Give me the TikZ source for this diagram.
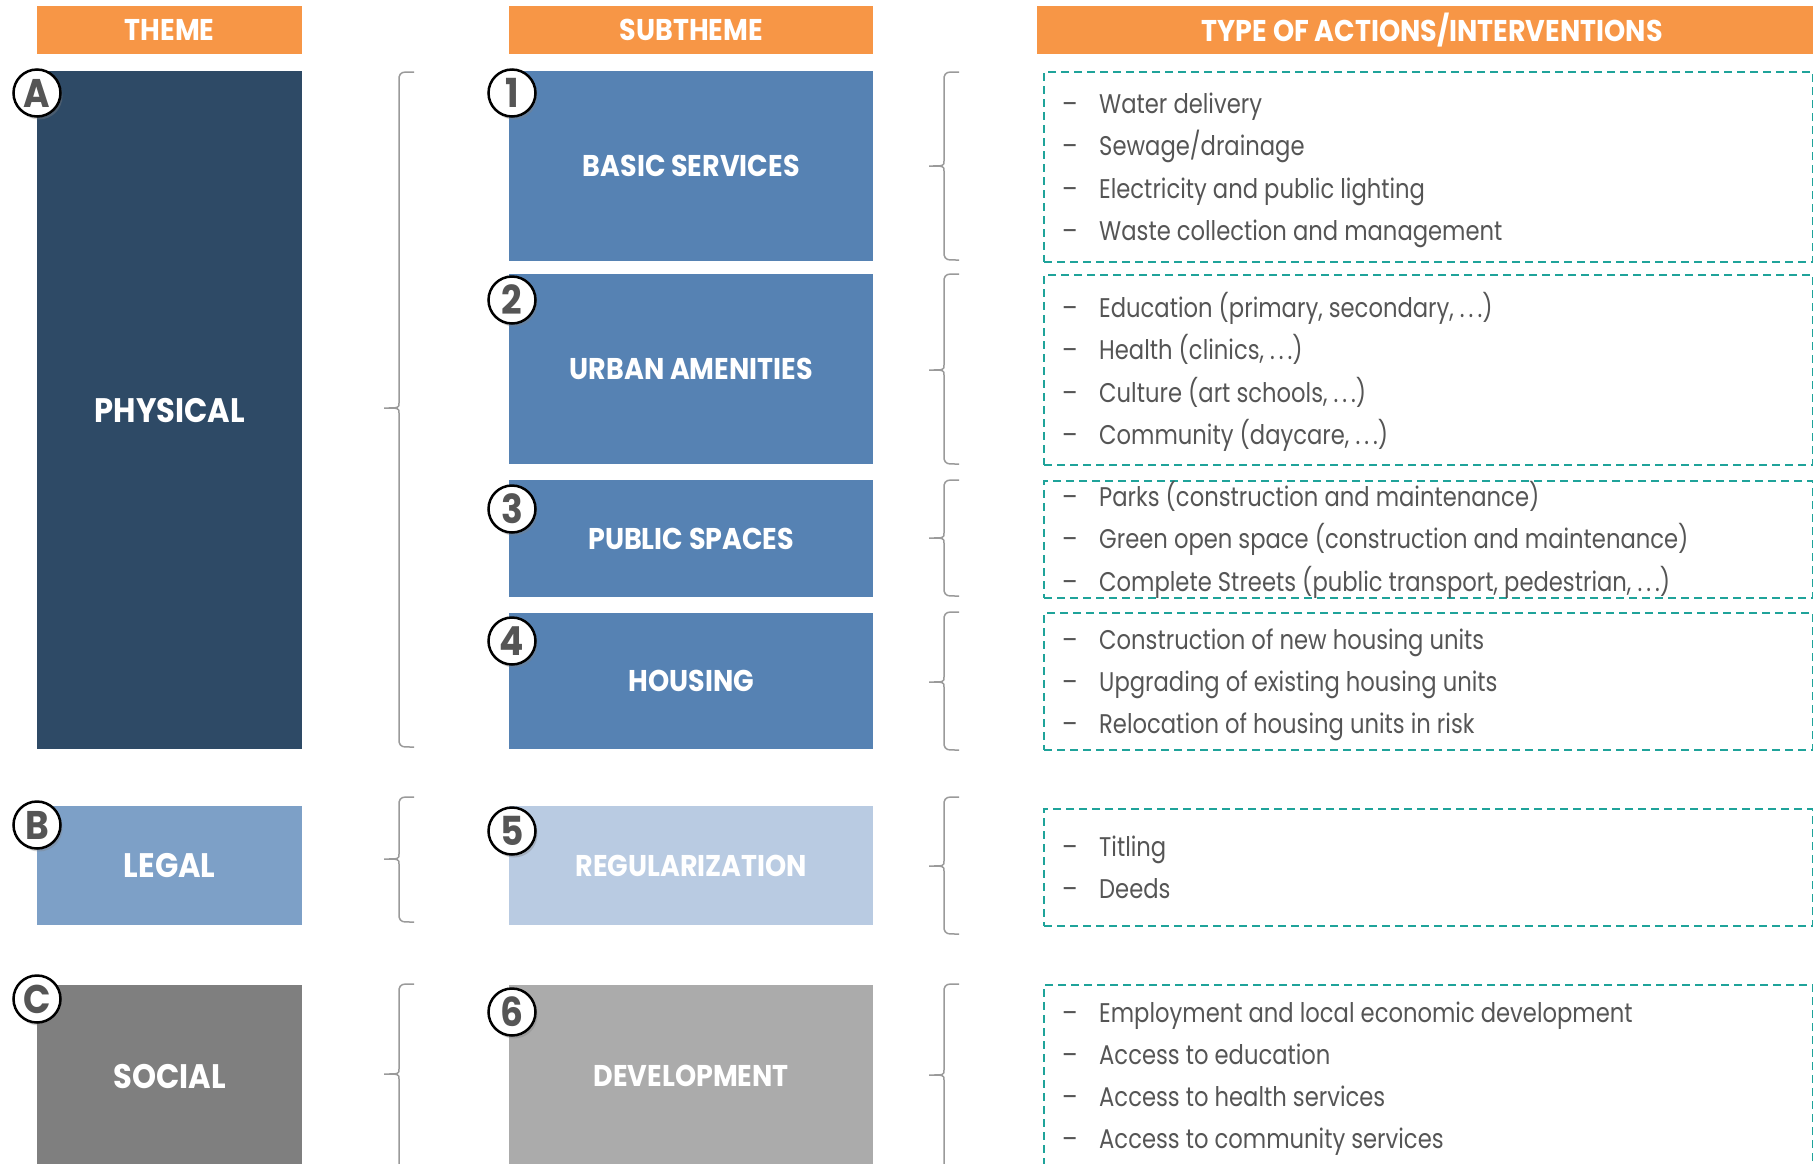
\documentclass[tikz,border=0pt]{standalone}
\usepackage{fontspec}
\setmainfont{Poppins}
\newfontfamily\labfont[FakeStretch=0.9]{Poppins}
\newfontfamily\listfont[FakeStretch=0.84]{Poppins}
\usetikzlibrary{shadows}
\definecolor{orangeH}{HTML}{F79646}
\definecolor{physC}{HTML}{2E4A66}
\definecolor{subC}{HTML}{5682B3}
\definecolor{legalC}{HTML}{7DA0C7}
\definecolor{regC}{HTML}{B9CBE2}
\definecolor{socC}{HTML}{7F7F7F}
\definecolor{devC}{HTML}{ABABAB}
\definecolor{tealC}{HTML}{1FA39A}
\definecolor{braceC}{HTML}{9A9A9A}
\definecolor{textC}{HTML}{555555}
\newcommand{\cbrace}[4]{%
\draw[brc] ({#1+15},#2) .. controls ({#1+2},#2) .. ({#1},{#2+5}) -- ({#1},{#3-5}) .. controls ({#1},{#3}) .. ({#1-15},{#3}) .. controls ({#1},{#3}) .. ({#1},{#3+5}) -- ({#1},{#4-5}) .. controls ({#1+2},{#4}) .. ({#1+15},{#4});}
\newcommand{\li}[3]{\node[item] (#1) at (1062,#2) {\makebox[37pt][l]{–}#3};}
\newcommand{\elp}{.\kern4pt.\kern4pt.}
\begin{document}
\begin{tikzpicture}[x=1pt,y=-1pt,
  hdr/.style={fill=orangeH, anchor=north west, inner sep=0pt, text=white, minimum height=48pt,
    font={\labfont\bfseries\fontsize{30}{36}\selectfont}},
  tbox/.style={anchor=north west, inner sep=0pt, text=white, minimum width=265pt,
    font={\labfont\bfseries\fontsize{34}{40}\selectfont}},
  sbox/.style={anchor=north west, inner sep=0pt, text=white, minimum width=364pt,
    font={\labfont\bfseries\fontsize{30}{36}\selectfont}},
  dbox/.style={anchor=north west, inner sep=0pt, draw=tealC, line width=2pt,
    dash pattern=on 8pt off 5pt, minimum width=769pt},
  circ/.style={circle, draw=black, line width=2.5pt, fill=white, minimum size=47pt, inner sep=0pt,
    text=textC, font={\labfont\bfseries\fontsize{40}{44}\selectfont},
    drop shadow={shadow xshift=2pt, shadow yshift=-3pt, opacity=0.35}},
  brc/.style={draw=braceC, line width=1.5pt},
  item/.style={anchor=base west, inner sep=0pt, text=textC,
    font={\listfont\fontsize{27}{31}\selectfont}}
]
\useasboundingbox (0,0) rectangle (1813,1163);
% headers
\node[hdr, minimum width=265pt] (hTheme) at (37,6) {THEME};
\node[hdr, minimum width=364pt] (hSub) at (509,6) {SUBTHEME};
\node[hdr, minimum width=790pt] (hAct) at (1037,6) {TYPE OF ACTIONS/INTERVENTIONS};
% theme boxes
\node[tbox, fill=physC, minimum height=678pt] (phys) at (37,71) {PHYSICAL};
\node[tbox, fill=legalC, minimum height=119pt] (legal) at (37,806) {LEGAL};
\node[tbox, fill=socC, minimum height=182pt] (social) at (37,985) {SOCIAL};
% subtheme boxes
\node[sbox, fill=subC, minimum height=190pt] (basic) at (509,71) {BASIC SERVICES};
\node[sbox, fill=subC, minimum height=190pt] (urban) at (509,274) {URBAN AMENITIES};
\node[sbox, fill=subC, minimum height=117pt] (public) at (509,480) {PUBLIC SPACES};
\node[sbox, fill=subC, minimum height=136pt] (housing) at (509,613) {HOUSING};
\node[sbox, fill=regC, minimum height=119pt] (reg) at (509,806) {REGULARIZATION};
\node[sbox, fill=devC, minimum height=182pt] (dev) at (509,985) {DEVELOPMENT};
% dashed boxes
\node[dbox, minimum height=190pt] (d1) at (1043,71) {};
\node[dbox, minimum height=190pt] (d2) at (1043,274) {};
\node[dbox, minimum height=117pt] (d3) at (1043,480) {};
\node[dbox, minimum height=137pt] (d4) at (1043,612) {};
\node[dbox, minimum height=117pt] (d5) at (1043,808) {};
\node[dbox, minimum height=200pt] (d6) at (1043,984) {};
% braces
\cbrace{399}{72}{408}{747}
\cbrace{399}{797}{859}{922}
\cbrace{399}{984}{1074}{1200}
\cbrace{944}{72}{166}{260}
\cbrace{944}{274}{370}{464}
\cbrace{944}{480}{538}{596}
\cbrace{944}{612}{682}{750}
\cbrace{944}{797}{866}{934}
\cbrace{944}{984}{1075}{1200}
% circles
\node[circ] (cA) at (37,93) {A};
\node[circ] (cB) at (37,825) {B};
\node[circ] (cC) at (37,999) {C};
\node[circ] (c1) at (512,93) {1};
\node[circ] (c2) at (512,300) {2};
\node[circ] (c3) at (512,509) {3};
\node[circ] (c4) at (512,641) {4};
\node[circ] (c5) at (512,831) {5};
\node[circ] (c6) at (512,1012) {6};
% list items
\li{a1}{113}{Water delivery}
\li{a2}{155.5}{Sewage/drainage}
\li{a3}{198}{Electricity and public lighting}
\li{a4}{240.5}{Waste collection and management}
\li{b1}{317}{Education (primary, secondary, \elp)}
\li{b2}{359.5}{Health (clinics, \elp)}
\li{b3}{402}{Culture (art schools, \elp)}
\li{b4}{444.5}{Community (daycare, \elp)}
\li{e1}{506}{Parks (construction and maintenance)}
\li{e2}{548.5}{Green open space (construction and maintenance)}
\li{e3}{591}{Complete Streets (public transport, pedestrian, \elp)}
\li{f1}{649}{Construction of new housing units}
\li{f2}{691}{Upgrading of existing housing units}
\li{f3}{733}{Relocation of housing units in risk}
\li{g1}{856}{Titling}
\li{g2}{898}{Deeds}
\li{h1}{1022}{Employment and local economic development}
\li{h2}{1064}{Access to education}
\li{h3}{1106}{Access to health services}
\li{h4}{1148}{Access to community services}
\end{tikzpicture}
\end{document}
